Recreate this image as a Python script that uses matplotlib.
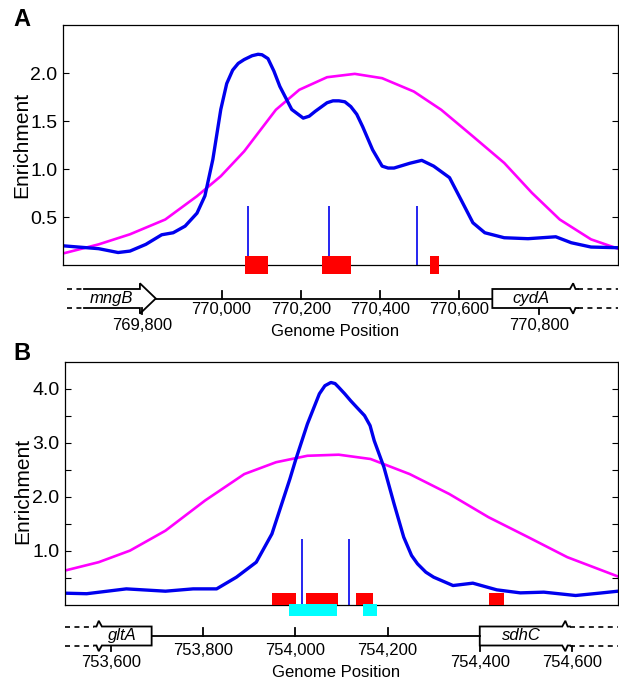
import matplotlib
matplotlib.use('Agg')
import matplotlib.pyplot as plt

plt.rcParams['font.family'] = ['Liberation Sans', 'DejaVu Sans']
plt.rcParams['lines.scale_dashes'] = False

# ---- panel A data ----
a_xlim = (769600, 771000)
a_blue_x = [769600, 769690, 769739, 769769, 769809, 769849, 769878, 769908, 769938, 769958,
            769978, 769998, 770013, 770028, 770042, 770057, 770077, 770092, 770102, 770117,
            770132, 770147, 770162, 770177, 770206, 770221, 770236, 770266, 770281, 770296,
            770311, 770326, 770341, 770356, 770381, 770405, 770420, 770435, 770475, 770505,
            770535, 770575, 770604, 770634, 770664, 770713, 770773, 770843, 770882, 770932, 771000]
a_blue_y = [0.20, 0.17, 0.13, 0.145, 0.215, 0.315, 0.336, 0.405, 0.54, 0.72,
            1.10, 1.62, 1.89, 2.03, 2.10, 2.14, 2.18, 2.195, 2.19, 2.15,
            2.02, 1.86, 1.74, 1.62, 1.53, 1.55, 1.60, 1.69, 1.71, 1.71,
            1.70, 1.65, 1.57, 1.44, 1.20, 1.03, 1.01, 1.01, 1.06, 1.09,
            1.03, 0.91, 0.68, 0.44, 0.336, 0.284, 0.274, 0.294, 0.232, 0.187, 0.18]
a_mag_x = [769600, 769690, 769769, 769858, 769938, 769998, 770057, 770137, 770196, 770266,
           770336, 770405, 770485, 770554, 770634, 770713, 770783, 770853, 770932, 771000]
a_mag_y = [0.12, 0.215, 0.32, 0.474, 0.717, 0.925, 1.184, 1.617, 1.825, 1.956,
           1.991, 1.946, 1.807, 1.617, 1.34, 1.063, 0.751, 0.474, 0.267, 0.17]
a_sites = [770066, 770271, 770493]
a_site_h = 0.61
a_red_start = [770060, 770253, 770526]
a_red_end = [770117, 770326, 770548]
a_genes = [('mngB', 769653, 769834, 'arrow_right'),
           ('cydA', 770683, 770879, 'break_right')]
a_line_ticks = [770000, 770200, 770400, 770600]
a_gene_ticks = [769800, 770800]

# ---- panel B data ----
b_xlim = (753500, 754700)
b_blue_x = [753500, 753547, 753633, 753718, 753778, 753829, 753872, 753915, 753949, 753975,
            753988, 754000, 754013, 754026, 754052, 754064, 754077, 754086, 754094, 754107,
            754120, 754133, 754150, 754162, 754171, 754192, 754214, 754235, 754252, 754265,
            754283, 754300, 754342, 754385, 754437, 754488, 754539, 754608, 754659, 754700]
b_blue_y = [0.21, 0.20, 0.29, 0.247, 0.29, 0.29, 0.507, 0.785, 1.31, 1.99,
            2.33, 2.67, 3.01, 3.35, 3.91, 4.06, 4.12, 4.10, 4.03, 3.91,
            3.78, 3.66, 3.505, 3.32, 3.04, 2.55, 1.87, 1.25, 0.91, 0.754,
            0.60, 0.507, 0.352, 0.396, 0.272, 0.216, 0.229, 0.167, 0.21, 0.247]
b_mag_x = [753500, 753573, 753641, 753718, 753804, 753889, 753958, 754026, 754094, 754163,
           754248, 754334, 754419, 754505, 754590, 754700]
b_mag_y = [0.63, 0.785, 1.0, 1.37, 1.93, 2.42, 2.64, 2.76, 2.78, 2.70,
           2.42, 2.05, 1.62, 1.25, 0.878, 0.52]
b_sites = [754014, 754116]
b_site_h = 1.22
b_red_start = [753949, 754024, 754131, 754420]
b_red_end = [754002, 754093, 754169, 754453]
b_cyan_start = [753986, 754146]
b_cyan_end = [754091, 754177]
b_genes = [('gltA', 753580, 753688, 'break_left'),
           ('sdhC', 754400, 754579, 'break_right')]
b_line_ticks = [753800, 754000, 754200]
b_gene_ticks = [753600, 754400, 754600]

W, H = 619, 682
fig = plt.figure(figsize=(W / 100, H / 100), dpi=100)


def box(l, t, r, b):
    return [l / W, 1 - b / H, (r - l) / W, (b - t) / H]


def main_axes(rect, xlim, ylim):
    ax = fig.add_axes(rect)
    ax.set_xlim(xlim)
    ax.set_ylim(ylim)
    ax.set_xticks([])
    ax.tick_params(axis='y', which='both', direction='in', left=True, right=True,
                   length=4, width=0.8, labelsize=14, pad=4)
    for s in ax.spines.values():
        s.set_linewidth(0.9)
    ax.set_ylabel('Enrichment', fontsize=15)
    return ax


def draw_gene(gax, name, x0, x1, kind, w):
    k = dict(color='black', lw=1.3, solid_joinstyle='miter', clip_on=False)
    d = dict(color='black', lw=1.2, dashes=(3.6, 3.2), clip_on=False)
    xa, xb = gax.get_xlim()
    if kind == 'arrow_right':
        hl = 40
        gax.plot([x0, x1 - hl, x1 - hl, x1, x1 - hl, x1 - hl, x0],
                 [1, 1, 1.6, 0, -1.6, -1, -1], **k)
        gax.plot([xa + 10, x0], [1, 1], **d)
        gax.plot([xa + 10, x0], [-1, -1], **d)
        tx = (x0 + x1 - hl) / 2
    elif kind == 'break_right':
        gax.plot([x1 + w, x1 + 0.7 * w, x1 + 0.4 * w, x1, x0, x0, x1, x1 + 0.4 * w, x1 + 0.7 * w, x1 + w],
                 [1, 1, 1.6, 1, 1, -1, -1, -1.6, -1, -1], **k)
        gax.plot([x1 + w, xb], [1, 1], **d)
        gax.plot([x1 + w, xb], [-1, -1], **d)
        tx = (x0 + x1) / 2
    else:
        gax.plot([x0 - w, x0 - 0.7 * w, x0 - 0.4 * w, x0, x1, x1, x0, x0 - 0.4 * w, x0 - 0.7 * w, x0 - w],
                 [1, 1, 1.6, 1, 1, -1, -1, -1.6, -1, -1], **k)
        gax.plot([xa, x0 - w], [1, 1], **d)
        gax.plot([xa, x0 - w], [-1, -1], **d)
        tx = (x0 + x1) / 2 - 10
    gax.text(tx, 0.05, name, style='italic', fontsize=12, ha='center', va='center')


def gene_track(rect, xlim, genes, line_ticks, gene_ticks, up_y, title_y):
    gax = fig.add_axes(rect)
    gax.set_xlim(xlim)
    gax.set_ylim(-2, 2)
    gax.axis('off')
    w = 0.014 * (xlim[1] - xlim[0])
    for g in genes:
        draw_gene(gax, *g, w)
    gax.plot([genes[0][2], genes[1][1]], [0, 0], color='black', lw=1.3)
    for t in line_ticks:
        gax.plot([t, t], [0, 0.8], color='black', lw=1.3)
        gax.text(t, up_y, f'{t:,}', fontsize=12, ha='center', va='center')
    for t in gene_ticks:
        gax.plot([t, t], [-1, -1.6], color='black', lw=1.3, clip_on=False)
        gax.text(t, -2.8, f'{t:,}', fontsize=12, ha='center', va='center')
    gax.text(0.49, title_y, 'Genome Position', transform=gax.transAxes,
             fontsize=12, ha='center', va='center')
    return gax


def boxes(ax, starts, ends, y0, h, color):
    ax.bar(starts, h, width=[e - s for s, e in zip(starts, ends)], bottom=y0,
           align='edge', color=color, clip_on=False, zorder=3)


# panel A
axA = main_axes(box(63, 25, 618, 265), a_xlim, (0, 2.5))
axA.set_yticks([0.5, 1.0, 1.5, 2.0])
axA.set_yticklabels(['0.5', '1.0', '1.5', '2.0'])
axA.yaxis.set_label_coords(-0.058, 0.5)
axA.plot(a_mag_x, a_mag_y, color='#ff00ff', lw=1.9, solid_joinstyle='round')
axA.plot(a_blue_x, a_blue_y, color='#0000ee', lw=2.4, solid_joinstyle='round')
axA.vlines(a_sites, 0, a_site_h, color='#0000ee', lw=1.2)
boxes(axA, a_red_start, a_red_end, -0.095, 0.19, '#ff0000')
gene_track(box(63, 279.5, 618, 317.5), a_xlim, a_genes, a_line_ticks, a_gene_ticks, -1.2, -0.38)

# panel B
axB = main_axes(box(65, 362, 618, 604.5), b_xlim, (0, 4.5))
axB.set_yticks([1, 2, 3, 4])
axB.set_yticklabels(['1.0', '2.0', '3.0', '4.0'])
axB.set_yticks([0.5, 1.5, 2.5, 3.5], minor=True)
axB.yaxis.set_label_coords(-0.06, 0.47)
axB.plot(b_mag_x, b_mag_y, color='#ff00ff', lw=1.9, solid_joinstyle='round')
axB.plot(b_blue_x, b_blue_y, color='#0000ee', lw=2.4, solid_joinstyle='round')
axB.vlines(b_sites, 0, b_site_h, color='#0000ee', lw=1.2)
boxes(axB, b_red_start, b_red_end, 0, 0.21, '#ff0000')
boxes(axB, b_cyan_start, b_cyan_end, -0.21, 0.21, '#00ffff')
gene_track(box(65, 617, 618, 655), b_xlim, b_genes, b_line_ticks, b_gene_ticks, -1.48, -0.46)

fig.text(22 / W, 1 - 20 / H, 'A', fontsize=17, weight='bold', ha='center', va='center')
fig.text(22 / W, 1 - 353 / H, 'B', fontsize=17, weight='bold', ha='center', va='center')

fig.savefig('out.png', dpi=100)
